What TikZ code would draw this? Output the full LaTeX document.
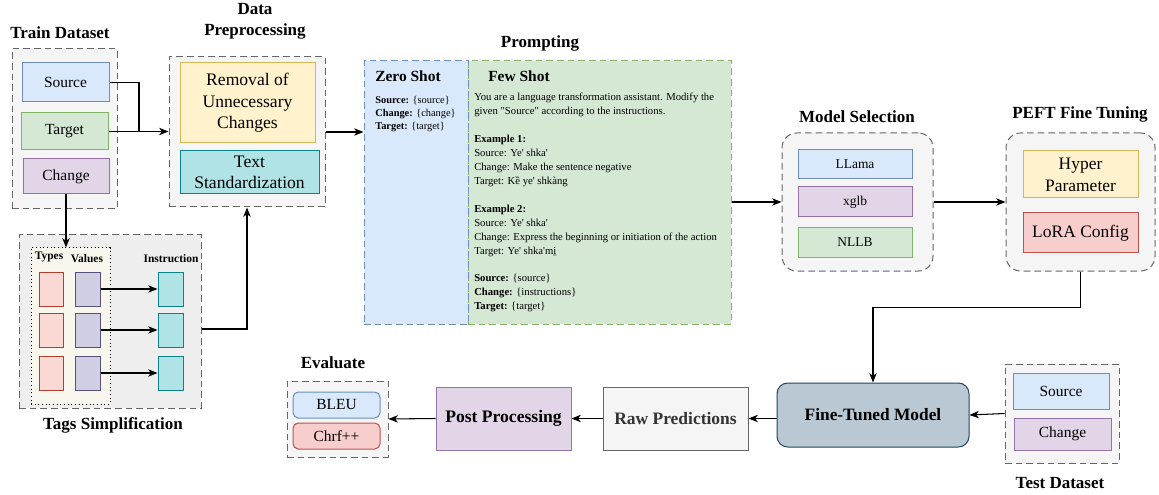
\documentclass[tikz,border=0pt]{standalone}
\usepackage{fontspec}
\setmainfont{Liberation Serif}[Ligatures=TeXOff]
\usetikzlibrary{arrows.meta,calc}
\definecolor{blueF}{HTML}{DAE8FC}\definecolor{blueD}{HTML}{6C8EBF}
\definecolor{greenF}{HTML}{D5E8D4}\definecolor{greenD}{HTML}{82B366}
\definecolor{purpF}{HTML}{E1D5E7}\definecolor{purpD}{HTML}{9673A6}
\definecolor{yelF}{HTML}{FFF2CC}\definecolor{yelD}{HTML}{D6B656}
\definecolor{tealF}{HTML}{B0E3E6}\definecolor{tealD}{HTML}{0E8088}
\definecolor{redF}{HTML}{F8CECC}\definecolor{redD}{HTML}{B85450}
\definecolor{grayF}{HTML}{F5F5F5}\definecolor{grayD}{HTML}{666666}
\definecolor{tagF}{HTML}{EEEEEE}\definecolor{creamF}{HTML}{F9F7ED}
\definecolor{typeF}{HTML}{FAD9D5}\definecolor{typeD}{HTML}{AE4132}
\definecolor{valF}{HTML}{D0CEE2}\definecolor{valD}{HTML}{56517E}
\definecolor{ftF}{HTML}{BAC8D3}\definecolor{ftD}{HTML}{23445D}
\definecolor{txtD}{HTML}{333333}
\newcommand\fsz[2]{\fontsize{#1}{#2}\selectfont}
\begin{document}
\begin{tikzpicture}[x=0.75pt,y=-0.75pt,
  wh/.style 2 args={minimum width=#1*0.75pt,minimum height=#2*0.75pt},
  base/.style={draw,inner sep=0pt,line width=0.75pt,align=center},
  cont/.style={base,draw=grayD,fill=grayF,dash pattern=on 5pt off 3pt},
  bluebox/.style={base,draw=blueD,fill=blueF},
  greenbox/.style={base,draw=greenD,fill=greenF},
  purpbox/.style={base,draw=purpD,fill=purpF},
  yelbox/.style={base,draw=yelD,fill=yelF},
  tealbox/.style={base,draw=tealD,fill=tealF},
  redbox/.style={base,draw=redD,fill=redF},
  typebox/.style={base,draw=typeD,fill=typeF,wh={24}{34}},
  valbox/.style={base,draw=valD,fill=valF,wh={25}{34}},
  insbox/.style={base,draw=tealD,fill=tealF,wh={25}{34}},
  ttl/.style={font=\fsz{12.75}{15.75}\bfseries,inner sep=0pt,align=center},
  lbl/.style={font=\fsz{11.6}{14}},
  big/.style={font=\fsz{13.2}{16}},
  arr/.style={draw=black,line width=0.8pt,-{Stealth[length=7pt,width=5.5pt,inset=2pt]}},
  ln/.style={draw=black,line width=0.8pt},
]
\useasboundingbox (0,0) rectangle (1159,495);

% ---------- Train dataset ----------
\node[cont,wh={105}{160}] (train) at (64.5,129) {};
\node[ttl] (trainT) at (60,33) {Train Dataset};
\node[bluebox,lbl,wh={87}{39}] (src) at (65.5,82.5) {Source};
\node[greenbox,lbl,wh={87}{37}] (tgt) at (64.5,131.5) {Target};
\node[purpbox,lbl,wh={86}{35}] (chg) at (66,176.5) {Change};

% ---------- Data preprocessing ----------
\node[cont,wh={156}{150}] (dp) at (247,132) {};
\node[ttl] (dpT) at (255,21.5) {Data\\Preprocessing};
\node[yelbox,big,wh={135}{80},font=\fsz{13.2}{16.2}] (rem) at (247.5,103) {Removal of\\Unnecessary\\Changes};
\node[tealbox,big,wh={139}{43},font=\fsz{13.2}{15.8}] (std) at (249.5,172.5) {Text\\Standardization};

\coordinate (j) at (139,131.5);
\draw[arr] (src.east) -| (j) -- (j -| dp.west);
\draw[ln] (tgt.east) -- (j);

% ---------- Tags simplification ----------
\node[base,draw=grayD,fill=tagF,dash pattern=on 5pt off 3pt,wh={182}{173}] (tags) at (110,321.5) {};
\node[base,draw=black,fill=creamF,dotted,wh={79}{156}] (inner) at (70.5,326) {};
\node[ttl] (tagsT) at (113,425) {Tags Simplification};
\node[inner sep=0pt,font=\fsz{8.6}{10}\bfseries] (typesL) at (49,257) {Types};
\node[inner sep=0pt,font=\fsz{8.6}{10}\bfseries] (valuesL) at (87,259) {Values};
\node[inner sep=0pt,font=\fsz{8.6}{10}\bfseries] (instrL) at (171,259) {Instruction};
\foreach \i/\yy in {1/289,2/330,3/373}{
  \node[typebox] (ty\i) at (51,\yy) {};
  \node[valbox] (va\i) at (87.5,\yy) {};
  \node[insbox] (in\i) at (170.5,\yy) {};
  \draw[arr] (va\i.east) -- (in\i.west);
}
\draw[arr] (chg.south) -- (chg.south |- inner.north);
\draw[arr] ($(tags.east)+(0,7.5)$) -| (dp.south);

% ---------- Prompting ----------
\node[base,draw=greenD,fill=greenF,dash pattern=on 5pt off 3pt,wh={263}{263}] (few) at (599.5,192.5) {};
\node[base,draw=blueD,fill=blueF,dash pattern=on 5pt off 3pt,wh={104}{263}] (zero) at (416,192.5) {};
\node[ttl] (promptT) at (540,43) {Prompting};
\node[anchor=west,inner sep=0pt,font=\fsz{11.6}{14}\bfseries] (zeroT) at (375,76) {Zero Shot};
\node[anchor=west,inner sep=0pt,font=\fsz{11.6}{14}\bfseries] (fewT) at (488,76) {Few Shot};
\node[anchor=north west,align=left,inner sep=0pt,font=\fsz{7.8}{9.75}] (zeroTxt) at (375,96)
  {\textbf{Source:} \{source\}\\\textbf{Change:} \{change\}\\\textbf{Target:} \{target\}};
\node[anchor=north west,align=left,inner sep=0pt,font=\fsz{8}{10.45}] (fewTxt) at (474,93)
  {You are a language transformation assistant. Modify the\\
   given "Source" according to the instructions.\\[10.45pt]
   \textbf{Example 1:}\\
   Source: Ye' shka'\\
   Change: Make the sentence negative\\
   Target: Kề ye' shkàng\\[10.45pt]
   \textbf{Example 2:}\\
   Source: Ye' shka'\\
   Change: Express the beginning or initiation of the action\\
   Target: Ye' shka'mi̱\\[10.45pt]
   \textbf{Source:} \{source\}\\
   \textbf{Change:} \{instructions\}\\
   \textbf{Target:} \{target\}};
\draw[arr] (dp.east) -- (dp.east -| zero.west);

% ---------- Model selection ----------
\node[cont,rounded corners=11pt,wh={151}{138}] (ms) at (857.5,202) {};
\node[ttl] (msT) at (857,117) {Model Selection};
\node[bluebox,wh={114}{29},font=\fsz{10.1}{12}] (llama) at (855,164.5) {LLama};
\node[purpbox,wh={114}{30},font=\fsz{10.1}{12}] (xglb) at (855,202) {xglb};
\node[greenbox,wh={114}{29},font=\fsz{10.1}{12}] (nllb) at (855,242.5) {NLLB};
\draw[arr] (few.east |- ms.west) -- (ms.west);

% ---------- PEFT ----------
\node[cont,rounded corners=11pt,wh={149}{138}] (peft) at (1080.5,202) {};
\node[ttl] (peftT) at (1080,114) {PEFT Fine Tuning};
\node[yelbox,wh={115}{47},font=\fsz{13.1}{16.5}] (hyper) at (1080.5,174.5) {Hyper\\Parameter};
\node[redbox,wh={115}{40},font=\fsz{13.1}{16}] (lora) at (1080.5,233) {LoRA Config};
\draw[arr] (ms.east) -- (peft.west);

% ---------- Fine-tuned model ----------
\node[base,draw=ftD,fill=ftF,rounded corners=8pt,wh={192}{64},font=\fsz{13}{16}\bfseries] (ft) at (873,415) {Fine-Tuned Model};
\draw[arr] (peft.south) -- ++(0,36) -| (ft.north);

% ---------- Test dataset ----------
\node[cont,wh={114}{99}] (test) at (1062,413.5) {};
\node[ttl] (testT) at (1060,483) {Test Dataset};
\node[bluebox,lbl,wh={96}{36}] (tsrc) at (1061,391) {Source};
\node[purpbox,lbl,wh={97}{32}] (tchg) at (1062.5,434) {Change};
\draw[arr] (test.west) -- (ft.east);

% ---------- Bottom row ----------
\node[cont,wh={101}{76}] (eval) at (337.5,419) {};
\node[ttl] (evalT) at (333,363) {Evaluate};
\node[bluebox,lbl,rounded corners=4pt,wh={87}{26}] (bleu) at (336.5,405) {BLEU};
\node[redbox,lbl,rounded corners=4pt,wh={87}{26}] (chrf) at (336.5,436) {Chrf++};
\node[purpbox,wh={135}{63},font=\fsz{13.2}{16}\bfseries] (post) at (503.5,418.5) {Post Processing};
\node[base,draw=grayD,fill=grayF,wh={145}{63},font=\fsz{13.1}{16}\bfseries,text=txtD] (raw) at (675.5,418.5) {Raw Predictions};
\draw[arr] (ft.west |- raw.east) -- (raw.east);
\draw[arr] (raw.west) -- (post.east);
\draw[arr] (post.west) -- (eval.east);
\end{tikzpicture}
\end{document}
